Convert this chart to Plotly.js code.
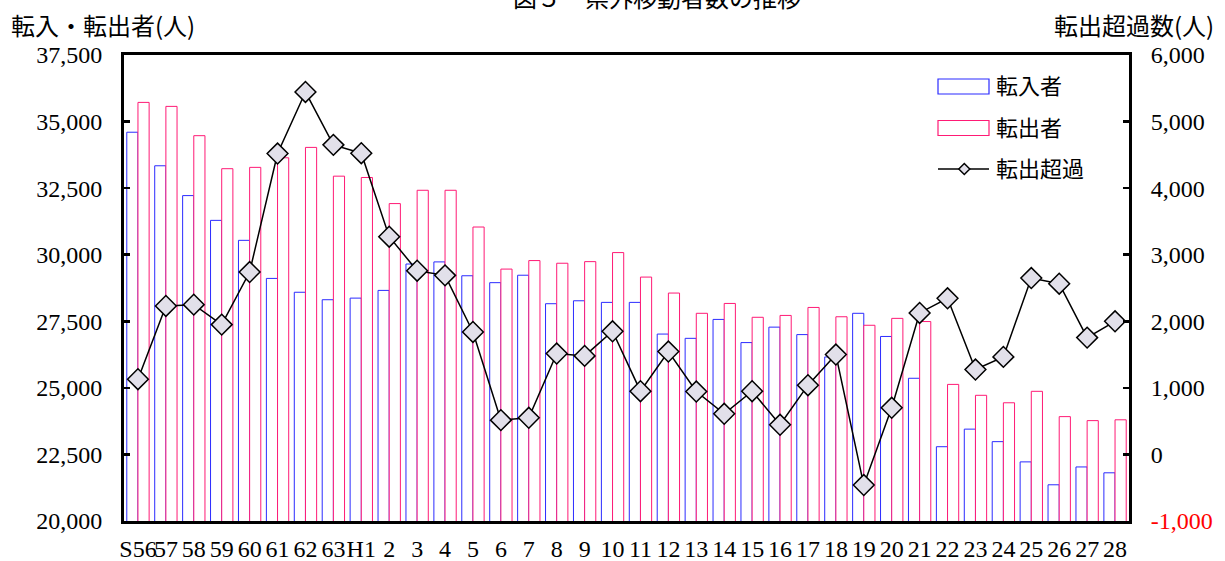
<!DOCTYPE html>
<html>
<head>
<meta charset="utf-8">
<script src="https://cdn.plot.ly/plotly-3.0.1.min.js"></script>
<style>html,body{margin:0;padding:0;background:#fff;}#chart{width:1225px;height:561px;}</style>
</head>
<body>
<div id="chart"></div>
<script>
// Categories (fiscal years S56 .. H28)
const categories = ["S56","57","58","59","60","61","62","63","H1","2","3","4","5","6","7","8","9","10","11","12","13","14","15","16","17","18","19","20","21","22","23","24","25","26","27","28"];
// 転入者 (in-migrants)
const tennyu = [34600,33340,32220,31290,30540,29110,28590,28310,28370,28660,29650,29730,29210,28950,29230,28160,28270,28210,28210,27020,26860,27570,26700,27280,27000,26160,27800,26930,25360,22790,23450,22980,22220,21360,22030,21810];
// 転出者 (out-migrants)
const tenshutsu = [35720,35570,34470,33230,33280,33640,34030,32950,32900,31920,32420,32420,31040,29460,29780,29680,29740,30080,29160,28560,27800,28170,27650,27720,28020,27670,27350,27610,27490,25130,24720,24440,24870,23920,23770,23800];
// 転出超過 (net out-migration)
const choka = [1130,2230,2250,1950,2740,4520,5445,4650,4525,3270,2760,2690,1840,515,550,1515,1480,1850,950,1545,945,610,950,445,1040,1500,-460,700,2125,2345,1275,1465,2650,2565,1755,2000];
// Axis ticks
const leftTickVals = [20000,22500,25000,27500,30000,32500,35000,37500];
const rightTickVals = [-1000,0,1000,2000,3000,4000,5000,6000];
const rightTickText = ['<span style="color:#FF0000">-1,000</span>','0','1,000','2,000','3,000','4,000','5,000','6,000'];

const serif = "'Liberation Serif', 'Times New Roman', serif";
const cjk = "'Noto Sans CJK JP', 'Noto Sans', sans-serif";

const traces = [
  {type:'bar', name:'転入者', x:categories, y:tennyu, yaxis:'y',
   marker:{color:'rgba(255,255,255,1)', line:{color:'#2B2BFF', width:1}}, showlegend:false},
  {type:'bar', name:'転出者', x:categories, y:tenshutsu, yaxis:'y',
   marker:{color:'rgba(255,255,255,1)', line:{color:'#FF1A75', width:1}}, showlegend:false},
  {type:'scatter', mode:'lines+markers', name:'転出超過', x:categories, y:choka, yaxis:'y2',
   line:{color:'#000000', width:1.5},
   marker:{symbol:'diamond', size:16, color:'#E2E0EA', line:{color:'#000000', width:1.5}},
   showlegend:false}
];

// paper coordinate helpers based on plot area (left 124, right 1129, top 55, bottom 521)
const px = v => (v-124)/1005;
const py = v => (521-v)/466;

const shapes = [
  {type:'rect', xref:'paper', yref:'paper', x0:px(938), x1:px(989), y0:py(94), y1:py(79), line:{color:'#2B2BFF', width:1.2}, fillcolor:'#FFFFFF'},
  {type:'rect', xref:'paper', yref:'paper', x0:px(938), x1:px(989), y0:py(135.5), y1:py(120.5), line:{color:'#FF1A75', width:1.2}, fillcolor:'#FFFFFF'},
  {type:'line', xref:'paper', yref:'paper', x0:px(938), x1:px(989), y0:py(169), y1:py(169), line:{color:'#000000', width:1.5}},
  {type:'path', xref:'paper', yref:'paper',
   path:'M '+px(964.3-5.5)+','+py(169)+' L '+px(964.3)+','+py(163.5)+' L '+px(964.3+5.5)+','+py(169)+' L '+px(964.3)+','+py(174.5)+' Z',
   line:{color:'#000000', width:1.5}, fillcolor:'#E2E0EA'}
];

const annotations = [
  {text:'図５　県外移動者数の推移', xref:'paper', yref:'paper', x:px(657), y:py(-3), xanchor:'center', yanchor:'middle', showarrow:false, font:{family:cjk, size:24, color:'#000'}},
  {text:'転入・転出者(人)', xref:'paper', yref:'paper', x:px(9), y:py(24), xanchor:'left', yanchor:'middle', showarrow:false, font:{family:cjk, size:24, color:'#000'}},
  {text:'転出超過数(人)', xref:'paper', yref:'paper', x:px(1216), y:py(24), xanchor:'right', yanchor:'middle', showarrow:false, font:{family:cjk, size:24, color:'#000'}},
  {text:'転入者', xref:'paper', yref:'paper', x:px(994), y:py(84), xanchor:'left', yanchor:'middle', showarrow:false, font:{family:cjk, size:22, color:'#000'}},
  {text:'転出者', xref:'paper', yref:'paper', x:px(994), y:py(126), xanchor:'left', yanchor:'middle', showarrow:false, font:{family:cjk, size:22, color:'#000'}},
  {text:'転出超過', xref:'paper', yref:'paper', x:px(994), y:py(167), xanchor:'left', yanchor:'middle', showarrow:false, font:{family:cjk, size:22, color:'#000'}}
];

const layout = {
  width:1225, height:561,
  margin:{l:124, r:96, t:55, b:40, pad:0},
  paper_bgcolor:'#FFFFFF', plot_bgcolor:'#FFFFFF',
  barmode:'group', bargap:0.2, bargroupgap:0,
  showlegend:false,
  separators:'.,',
  font:{family:serif, color:'#000'},
  xaxis:{type:'category', range:[-0.5, categories.length-0.5], tickmode:'linear', dtick:1, tickangle:0,
         showline:true, linecolor:'#000', linewidth:3, mirror:true,
         ticks:'', showgrid:false, zeroline:false, tickfont:{family:serif, size:24, color:'#000'},
         ticklabelstandoff:4, automargin:false},
  yaxis:{range:[20000,37500], tickvals:leftTickVals, tickformat:',d',
         showline:true, linecolor:'#000', linewidth:3, mirror:true, ticks:'inside', ticklen:6, tickwidth:2.5, tickcolor:'#000',
         showgrid:false, zeroline:false, tickfont:{family:serif, size:24, color:'#000'}, ticklabelstandoff:14, automargin:false},
  yaxis2:{range:[-1000,6000], overlaying:'y', side:'right', tickvals:rightTickVals, ticktext:rightTickText,
         showline:true, linecolor:'#000', linewidth:3, ticks:'inside', ticklen:6, tickwidth:2.5, tickcolor:'#000',
         showgrid:false, zeroline:false, tickfont:{family:serif, size:24, color:'#000'}, ticklabelstandoff:14, automargin:false},
  shapes:shapes,
  annotations:annotations
};

Plotly.newPlot('chart', traces, layout, {staticPlot:true, displayModeBar:false});
</script>
</body>
</html>
